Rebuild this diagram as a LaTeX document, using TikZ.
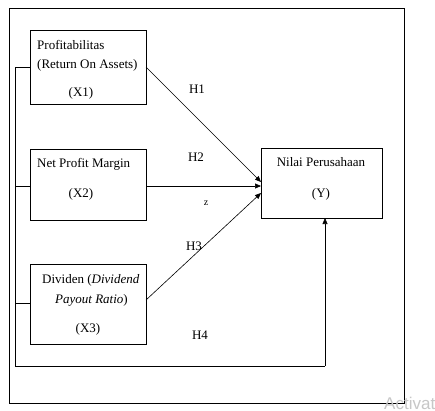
\documentclass[tikz,border=0pt]{standalone}
\usepackage{fontspec}
\setmainfont{Liberation Serif}
\newfontfamily\wmfont{Liberation Sans}
\usetikzlibrary{arrows.meta}
\begin{document}
\begin{tikzpicture}[x=1pt,y=-1pt,
  box/.style={draw,line width=0.7pt},
  conn/.style={line width=0.6pt},
  arr/.style={conn,-{Triangle[length=6pt,width=5pt]}},
  txt/.style={font=\rmfamily\fontsize{13}{15}\selectfont,inner sep=0pt},
  lbl/.style={font=\rmfamily\fontsize{13}{15}\selectfont,inner sep=0pt}]
\useasboundingbox (0,0) rectangle (435,410);
\fill[white] (0,0) rectangle (435,410);
% outer frame
\draw[line width=0.7pt] (9,8) rectangle (404,403);
% boxes
\draw[box] (30,30) rectangle (146,104);
\draw[box] (30,149) rectangle (146,220);
\draw[box] (30,264) rectangle (146,344);
\draw[box] (261,148) rectangle (382,218);
\coordinate (x1r) at (146,67);
\coordinate (x2r) at (146,186);
\coordinate (x3r) at (146,300);
\coordinate (y1) at (261,182);
\coordinate (y2) at (261,186);
\coordinate (y3) at (261,193);
\coordinate (yb) at (325,218);
% texts
\node[txt,anchor=base west] (t1a) at (37,49) {Profitabilitas};
\node[txt,anchor=base west] (t1b) at (37,68) {(Return On Assets)};
\node[txt,anchor=base] (t1c) at (81,96) {(X1)};
\node[txt,anchor=base west] (t2a) at (37,167) {Net Profit Margin};
\node[txt,anchor=base] (t2b) at (81,197) {(X2)};
\node[txt,anchor=base west] (t3a) at (42,283) {Dividen (\textit{Dividend}};
\node[txt,anchor=base west] (t3b) at (55,303) {\textit{Payout Ratio})};
\node[txt,anchor=base] (t3c) at (88,332) {(X3)};
\node[txt,anchor=base] (ya) at (321,166) {Nilai Perusahaan};
\node[txt,anchor=base] (yc) at (321,197) {(Y)};
% labels
\node[lbl,anchor=base] (h1) at (197,93) {H1};
\node[lbl,anchor=base] (h2) at (196,161) {H2};
\node[font=\rmfamily\fontsize{10}{11}\selectfont,inner sep=0pt,anchor=base] (z) at (206,205) {z};
\node[lbl,anchor=base] (h3) at (194,250) {H3};
\node[lbl,anchor=base] (h4) at (200,339) {H4};
% connectors
\draw[arr] (x1r) -- (y1);
\draw[arr] (x2r) -- (y2);
\draw[arr] (x3r) -- (y3);
\draw[conn] (30,67) -- (15,67) -- (15,366) -- (325,366);
\draw[arr] (325,366) -- (yb);
\draw[conn] (15,186) -- (30,186);
\draw[conn] (15,303) -- (30,303);
% watermark
\begin{scope}
\clip (0,0) rectangle (435,410);
\node[font=\wmfont\fontsize{17}{18}\selectfont,text=black!22,anchor=base west,inner sep=0pt] (wm) at (384,409) {Activate};
\end{scope}
\end{tikzpicture}
\end{document}
